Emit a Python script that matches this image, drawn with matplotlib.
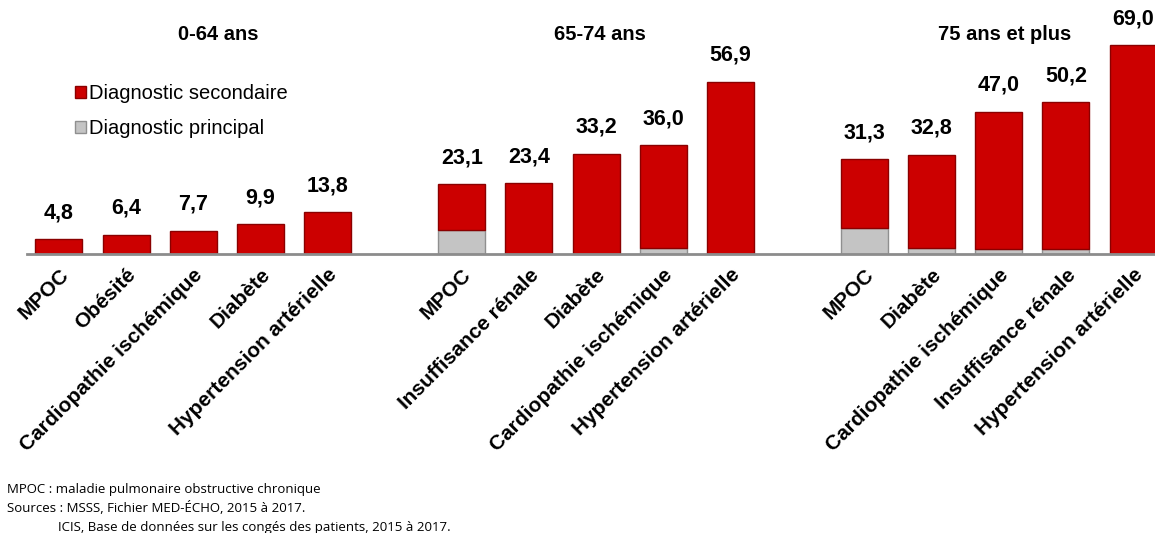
import numpy as np
import matplotlib.pyplot as plt
from matplotlib.patches import Patch

# data
groups = ['0-64 ans', '65-74 ans', '75 ans et plus']
cats_0_64 = ['MPOC', 'Obésité', 'Cardiopathie ischémique', 'Diabète', 'Hypertension artérielle']
cats_65_74 = ['MPOC', 'Insuffisance rénale', 'Diabète', 'Cardiopathie ischémique', 'Hypertension artérielle']
cats_75 = ['MPOC', 'Diabète', 'Cardiopathie ischémique', 'Insuffisance rénale', 'Hypertension artérielle']

total_0_64 = [4.8, 6.4, 7.7, 9.9, 13.8]
total_65_74 = [23.1, 23.4, 33.2, 36.0, 56.9]
total_75 = [31.3, 32.8, 47.0, 50.2, 69.0]

# diagnostic principal part (grey, bottom of each bar), estimated
princ_0_64 = [0.0, 0.0, 0.0, 0.0, 0.0]
princ_65_74 = [7.9, 0.0, 0.0, 2.0, 0.0]
princ_75 = [8.5, 2.0, 1.5, 1.8, 0.0]

labels = cats_0_64 + cats_65_74 + cats_75
totals = np.array(total_0_64 + total_65_74 + total_75)
princ = np.array(princ_0_64 + princ_65_74 + princ_75)
second = totals - princ
pos = np.concatenate([np.arange(5), np.arange(5) + 6, np.arange(5) + 12])

red = '#CC0000'
grey = '#C4C4C4'

fig = plt.figure(figsize=(11.55, 5.33), dpi=100)
ax = fig.add_axes([27 / 1155, (533 - 254) / 533, (1170 - 27) / 1155, 227 / 533])

ax.bar(pos, princ, width=0.7, color=grey, edgecolor='#8F8F8F', linewidth=1)
ax.bar(pos, second, width=0.7, bottom=princ, color=red, edgecolor='#8A0000', linewidth=1)

for x, t in zip(pos, totals):
    ax.annotate(f'{t:.1f}'.replace('.', ','), (x, t), xytext=(0, 19), textcoords='offset points',
                ha='center', va='center', fontsize=15.5, fontweight='bold', family='Liberation Sans')

ax.set_xlim(-0.476, 16.55)
ax.set_ylim(0, 75)
ax.set_yticks([])
for s in ['top', 'right', 'left']:
    ax.spines[s].set_visible(False)
ax.spines['bottom'].set_color('#8C8C8C')
ax.spines['bottom'].set_linewidth(2)
ax.set_xticks(pos, labels, rotation=45, ha='right', rotation_mode='anchor',
              fontsize=15, fontweight='bold', family='Liberation Sans')
ax.tick_params(axis='x', length=0, pad=8)

title_x = [218, 600, 1005]
for g, tx in zip(groups, title_x):
    fig.text(tx / 1155, 1 - 34 / 533, g, ha='center', va='center', fontsize=14.5,
             fontweight='bold', family='Liberation Sans')

handles = [Patch(facecolor=red, edgecolor='#8A0000'), Patch(facecolor=grey, edgecolor='#8F8F8F')]
fig.legend(handles, ['Diagnostic secondaire', 'Diagnostic principal'], loc='upper left',
           bbox_to_anchor=(57 / 1155, 1 - 66 / 533), frameon=False, handlelength=0.55, handleheight=0.55,
           handletextpad=0.12, labelspacing=0.8, prop={'family': 'Liberation Sans', 'size': 14.5})

notes = ['MPOC : maladie pulmonaire obstructive chronique',
         'Sources : MSSS, Fichier MED-ÉCHO, 2015 à 2017.']
fig.text(7 / 1155, 1 - 489 / 533, notes[0], va='center', fontsize=9.5, family='Open Sans')
fig.text(7 / 1155, 1 - 508 / 533, notes[1], va='center', fontsize=9.5, family='Open Sans')
fig.text(58 / 1155, 1 - 527 / 533, 'ICIS, Base de données sur les congés des patients, 2015 à 2017.',
         va='center', fontsize=9.5, family='Open Sans')

fig.savefig('out.png', dpi=100)
